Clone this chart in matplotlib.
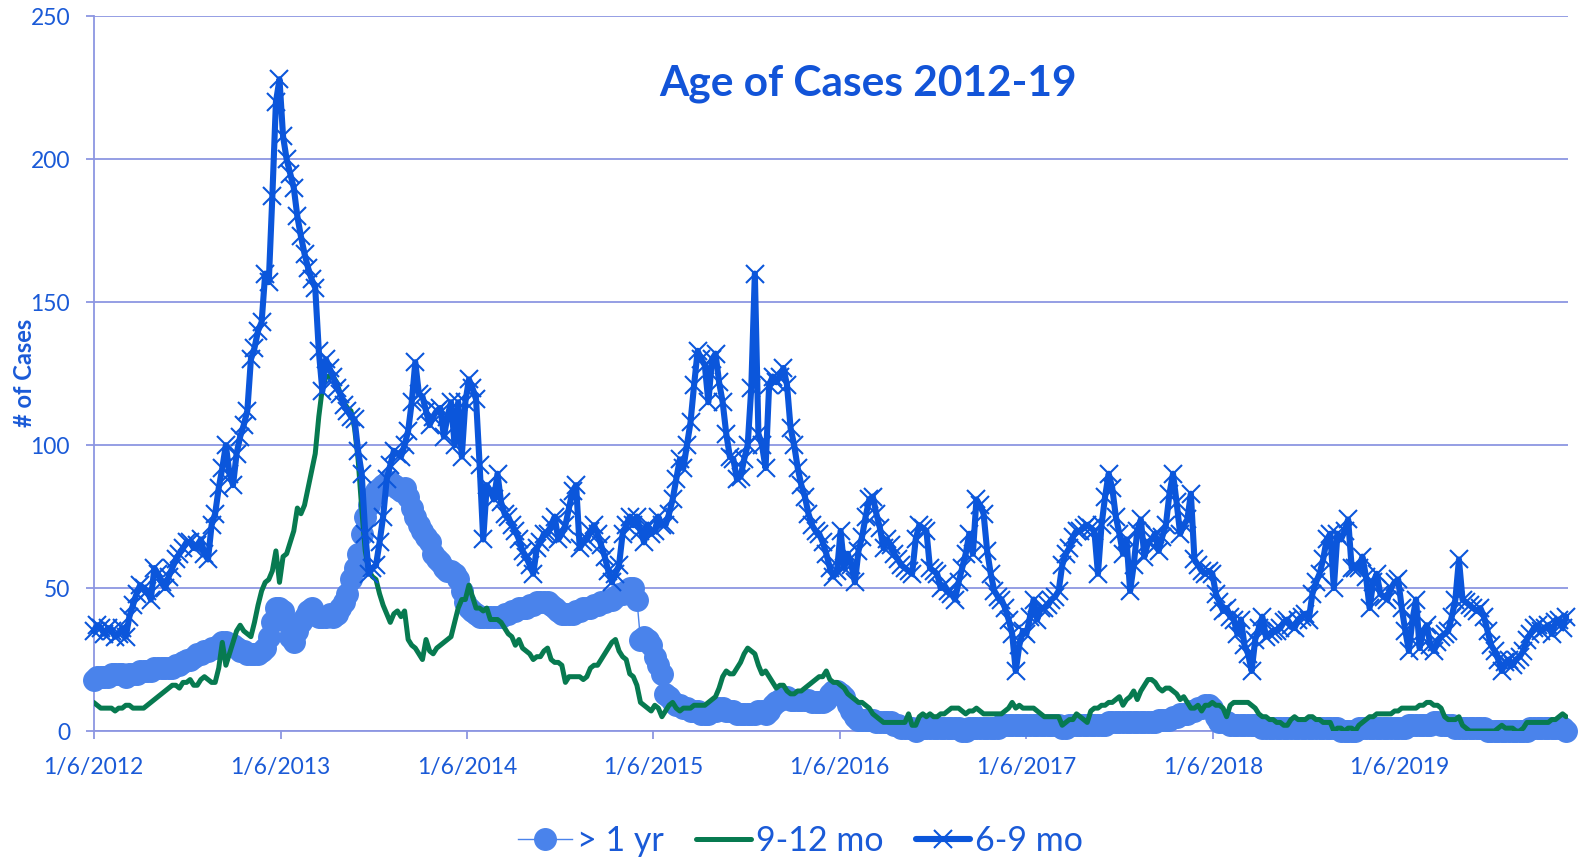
import matplotlib
matplotlib.use("Agg")
import matplotlib.pyplot as plt
import pandas as pd

# weekly counts, one line per year (52 weeks), starting 1/6/2012
over_1yr = [
    18, 19, 19, 19, 19, 20, 20, 20, 20, 19, 20, 20, 20, 21, 21, 21, 21, 22, 22, 22, 22, 22, 22, 23, 23, 24, 25, 25, 26, 27, 27, 28, 28, 29, 29, 30, 31, 31, 30, 30, 29, 28, 28, 27, 27, 27, 27, 28, 29, 33, 38, 43,
    43, 42, 38, 33, 31, 35, 38, 40, 42, 43, 41, 40, 40, 40, 41, 40, 41, 43, 45, 48, 53, 57, 62, 69, 75, 79, 82, 84, 85, 86, 87, 87, 86, 85, 84, 85, 82, 78, 75, 72, 70, 68, 66, 62, 60, 59, 57, 56, 56, 55, 53, 49,
    45, 43, 42, 41, 40, 40, 40, 40, 40, 40, 40, 41, 41, 42, 42, 43, 43, 43, 44, 44, 45, 45, 45, 45, 44, 43, 42, 41, 41, 41, 41, 42, 42, 43, 43, 43, 44, 44, 45, 45, 46, 46, 47, 48, 48, 49, 50, 50, 46, 32, 33, 32,
    30, 26, 23, 20, 13, 12, 10, 9, 9, 8, 8, 7, 7, 7, 6, 6, 6, 7, 7, 8, 8, 7, 7, 7, 6, 6, 6, 6, 6, 6, 7, 7, 6, 7, 9, 10, 11, 12, 12, 11, 11, 11, 11, 11, 11, 10, 10, 10, 10, 11, 13, 14,
    14, 13, 12, 9, 7, 5, 4, 4, 4, 4, 4, 3, 3, 3, 3, 3, 2, 2, 1, 1, 1, 1, 0, 1, 1, 1, 1, 1, 1, 1, 1, 1, 1, 1, 1, 0, 0, 1, 1, 1, 1, 1, 1, 1, 1, 1, 2, 2, 2, 2, 2, 2,
    2, 2, 2, 2, 2, 2, 2, 2, 2, 2, 2, 1, 1, 2, 2, 2, 2, 2, 2, 2, 2, 2, 2, 2, 3, 3, 3, 3, 3, 3, 3, 3, 3, 3, 3, 3, 3, 3, 4, 4, 4, 4, 5, 5, 6, 6, 6, 7, 7, 8, 8, 9,
    9, 8, 5, 3, 3, 3, 2, 2, 2, 2, 2, 2, 2, 2, 2, 1, 1, 1, 1, 1, 1, 1, 1, 1, 1, 1, 1, 1, 1, 1, 1, 1, 1, 1, 1, 1, 1, 0, 0, 0, 0, 0, 1, 1, 1, 1, 1, 1, 1, 1, 1, 1,
    1, 1, 1, 1, 2, 2, 2, 2, 2, 2, 2, 3, 3, 2, 2, 2, 2, 1, 1, 1, 1, 1, 1, 1, 1, 1, 0, 0, 0, 0, 0, 0, 0, 0, 0, 0, 0, 0, 1, 1, 1, 1, 1, 1, 1, 1, 1, 1, 0,
]

mo_9_12 = [
    10, 9, 8, 8, 8, 8, 7, 8, 8, 9, 9, 8, 8, 8, 8, 9, 10, 11, 12, 13, 14, 15, 16, 16, 15, 17, 17, 18, 16, 16, 18, 19, 18, 17, 17, 22, 31, 23, 27, 31, 35, 37, 35, 34, 33, 38, 44, 49, 52, 53, 56, 63,
    52, 61, 62, 66, 70, 78, 76, 79, 85, 91, 97, 110, 120, 124, 124, 124, 122, 118, 115, 113, 112, 106, 95, 78, 63, 56, 54, 53, 48, 44, 41, 38, 41, 42, 40, 42, 32, 30, 29, 27, 25, 32, 28, 27, 29, 30, 31, 32, 33, 38, 43, 46,
    46, 51, 47, 43, 43, 42, 43, 39, 39, 39, 38, 36, 34, 33, 30, 32, 29, 28, 27, 25, 26, 26, 28, 29, 25, 24, 24, 23, 17, 19, 19, 19, 19, 18, 19, 22, 23, 23, 25, 27, 29, 31, 32, 28, 26, 25, 20, 19, 16, 10, 9, 8,
    7, 9, 8, 5, 7, 9, 10, 8, 7, 8, 8, 8, 9, 9, 9, 9, 10, 11, 12, 15, 19, 21, 20, 20, 22, 24, 27, 29, 28, 27, 23, 20, 21, 19, 17, 15, 16, 16, 14, 13, 13, 14, 14, 15, 16, 17, 18, 19, 19, 21, 18, 17,
    17, 16, 15, 13, 12, 11, 10, 10, 9, 8, 6, 5, 4, 3, 3, 3, 3, 3, 3, 3, 6, 2, 2, 5, 6, 5, 6, 5, 5, 6, 6, 7, 8, 8, 8, 7, 6, 7, 7, 8, 7, 6, 6, 6, 6, 6, 6, 7, 8, 10, 8, 9,
    8, 8, 8, 8, 7, 6, 5, 5, 5, 5, 5, 2, 3, 4, 4, 6, 5, 4, 3, 7, 8, 8, 9, 9, 10, 10, 11, 12, 9, 11, 12, 14, 11, 14, 16, 18, 18, 17, 15, 14, 15, 15, 14, 13, 11, 12, 10, 8, 8, 9, 7, 9,
    9, 10, 9, 9, 8, 5, 9, 10, 10, 10, 10, 10, 9, 8, 6, 5, 5, 4, 4, 3, 3, 2, 2, 4, 5, 4, 4, 4, 5, 5, 4, 4, 3, 3, 3, 0, 1, 1, 0, 1, 1, 0, 2, 3, 4, 5, 5, 6, 6, 6, 6, 6,
    7, 7, 8, 8, 8, 8, 8, 9, 9, 10, 10, 9, 9, 8, 5, 4, 4, 4, 5, 2, 1, 0, 0, 0, 0, 0, 0, 0, 0, 1, 2, 1, 1, 1, 0, 0, 1, 3, 3, 3, 3, 3, 3, 3, 4, 4, 5, 6, 5,
]

mo_6_9 = [
    35, 37, 36, 34, 36, 35, 33, 34, 36, 33, 40, 44, 48, 51, 50, 49, 46, 57, 55, 52, 50, 54, 57, 60, 62, 64, 66, 66, 64, 65, 67, 62, 60, 72, 76, 85, 92, 100, 90, 86, 97, 103, 107, 112, 130, 134, 140, 143, 160, 157, 187, 220,
    228, 208, 200, 195, 190, 180, 173, 167, 162, 158, 155, 133, 119, 130, 127, 124, 120, 118, 114, 112, 110, 109, 98, 90, 69, 55, 57, 58, 66, 75, 88, 93, 98, 97, 96, 100, 105, 115, 129, 118, 117, 112, 107, 110, 112, 113, 103, 110, 115, 100, 115, 96,
    115, 123, 120, 116, 93, 67, 86, 84, 81, 90, 80, 76, 75, 72, 70, 67, 63, 61, 58, 55, 64, 66, 69, 69, 72, 75, 67, 69, 72, 78, 84, 86, 64, 66, 67, 70, 72, 69, 65, 61, 56, 52, 55, 58, 69, 72, 75, 72, 75, 70, 66, 72,
    69, 70, 75, 72, 72, 76, 81, 88, 95, 92, 100, 108, 121, 133, 130, 128, 115, 130, 132, 122, 115, 104, 96, 95, 88, 89, 95, 100, 120, 160, 104, 100, 92, 121, 124, 122, 124, 127, 121, 106, 100, 92, 86, 82, 76, 72, 70, 69, 66, 62, 57, 54,
    56, 70, 57, 62, 58, 52, 63, 68, 75, 81, 82, 76, 71, 64, 67, 65, 62, 60, 58, 57, 56, 55, 67, 72, 71, 70, 57, 56, 55, 50, 51, 49, 48, 46, 52, 57, 62, 69, 62, 81, 79, 76, 63, 55, 49, 47, 46, 43, 39, 34, 21, 30,
    35, 34, 40, 46, 39, 43, 43, 44, 46, 47, 49, 58, 62, 64, 68, 70, 70, 71, 72, 71, 70, 55, 72, 82, 90, 85, 75, 69, 62, 67, 49, 58, 70, 74, 61, 66, 67, 69, 63, 68, 72, 83, 90, 80, 69, 72, 74, 83, 60, 58, 56, 55,
    56, 55, 48, 45, 42, 43, 40, 39, 34, 39, 30, 27, 21, 32, 36, 40, 33, 34, 35, 35, 36, 38, 39, 37, 36, 39, 40, 41, 39, 48, 52, 55, 60, 67, 69, 50, 69, 67, 70, 74, 57, 57, 57, 61, 54, 43, 52, 55, 48, 47, 46, 50,
    52, 53, 43, 35, 28, 39, 46, 29, 35, 37, 30, 28, 31, 33, 34, 35, 40, 46, 60, 46, 45, 44, 43, 42, 43, 40, 35, 30, 28, 25, 21, 24, 25, 23, 25, 26, 28, 32, 34, 36, 37, 35, 36, 37, 34, 38, 39, 36, 40,
]

years = list(range(2012, 2020))
tick_labels = [f"1/6/{y}" for y in years]

weeks = pd.date_range("2012-01-06", periods=len(mo_6_9), freq="7D")
tick_dates = [pd.Timestamp(f"{y}-01-06") for y in years]

grid_col = "#8C96E2"
text_col = "#1A5AD7"
font = "Lato"

fig = plt.figure(figsize=(15.79, 8.60), dpi=100)
ax = fig.add_axes([0.0593, 0.150, 0.9337, 0.831])

ax.plot(weeks, over_1yr, color="#4A83EB", lw=1, marker="o", ms=15.5,
        mec="#4A83EB", mfc="#4A83EB", label="> 1 yr", zorder=3, clip_on=False)
ax.plot(weeks, mo_9_12, color="#077A50", lw=3.6, label="9-12 mo", zorder=4,
        solid_capstyle="round", solid_joinstyle="round")
ax.plot(weeks, mo_6_9, color="#0B56DB", lw=4.4, marker="x", ms=13, mew=1.5,
        label="6-9 mo", zorder=5, clip_on=False,
        solid_capstyle="round", solid_joinstyle="round")

ax.set_ylim(0, 250)
ax.set_yticks(range(0, 251, 50))
ax.set_xlim(weeks[0], weeks[0] + pd.Timedelta(days=7 * 412.5))
ax.set_xticks(tick_dates)
ax.set_xticklabels(tick_labels)

ax.yaxis.grid(True, color=grid_col, lw=1.3)
ax.set_axisbelow(True)
for s in ["top", "right"]:
    ax.spines[s].set_visible(False)
for s in ["left", "bottom"]:
    ax.spines[s].set_color(grid_col)
    ax.spines[s].set_linewidth(1.3)

ax.tick_params(axis="both", colors=grid_col, length=6, width=1.3,
               labelcolor=text_col, labelsize=16.5)
for lab in ax.get_xticklabels() + ax.get_yticklabels():
    lab.set_family(font)
ax.tick_params(axis="x", pad=12.5)
ax.tick_params(axis="y", pad=11)

fig.text(0.0152, 0.566, "# of Cases", family=font, weight="bold",
         fontsize=17, color=text_col, rotation=90, ha="center", va="center")

fig.text(0.550, 0.889, "Age of Cases 2012-19", family=font, weight="bold",
         fontsize=30.5, color="#1254D8", ha="center", va="baseline")

leg = fig.legend(loc="center", bbox_to_anchor=(0.507, 0.022), ncol=3,
                 frameon=False, handlelength=1.6, handletextpad=0.15,
                 columnspacing=0.95, prop={"family": font, "size": 24.5})
for t in leg.get_texts():
    t.set_color(text_col)

fig.savefig("out.png", dpi=100)
